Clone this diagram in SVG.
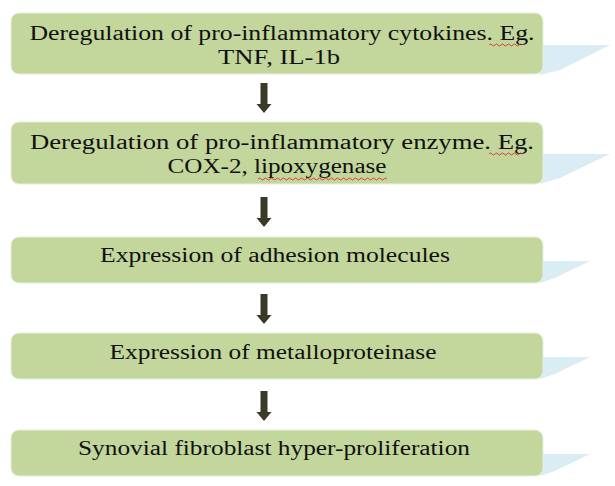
<svg xmlns="http://www.w3.org/2000/svg" width="615" height="486" viewBox="0 0 615 486">
<style>
.box{fill:#c3d69b;stroke:#e8eedd;stroke-width:1}
.sh{fill:#dbedf4}
.t{font-family:"Liberation Serif","Times New Roman",serif;font-size:20px;fill:#111;text-anchor:middle}
.arr{fill:#3b3a28}
.sq{fill:none;stroke:#d22;stroke-width:0.8}
</style>
<defs>
<path id="ar" d="M-3.5,0 H3.5 V21 H7.5 L0,30 L-7.5,21 H-3.5 Z"/>
</defs>
<rect width="615" height="486" fill="#fff"/>
<g id="connectors" class="arr">
<use href="#ar" x="264" y="83"/>
<use href="#ar" x="264" y="197"/>
<use href="#ar" x="264" y="294"/>
<use href="#ar" x="264" y="391"/>
</g>
<g id="n1">
<path class="sh" d="M540,45 H610 L560,70 L540,75 Z"/>
<rect class="box" x="11" y="13" width="532" height="61" rx="8"/>
<text class="t" x="282" y="40" textLength="505" lengthAdjust="spacingAndGlyphs">Deregulation of pro-inflammatory cytokines. Eg.</text>
<text class="t" x="279" y="64" textLength="122" lengthAdjust="spacingAndGlyphs">TNF, IL-1b</text>
<path class="sq" d="M489,45 q1.5,-2 3,0 t3,0 t3,0 t3,0 t3,0 t3,0 t3,0 t3,0 t3,0 t3,0 t3,0"/>
</g>
<g id="n2">
<path class="sh" d="M540,154 H610 L560,178 L540,184 Z"/>
<rect class="box" x="11" y="122" width="532" height="62" rx="8"/>
<text class="t" x="282" y="149" textLength="504" lengthAdjust="spacingAndGlyphs">Deregulation of pro-inflammatory enzyme. Eg.</text>
<text class="t" x="277" y="173" textLength="219" lengthAdjust="spacingAndGlyphs">COX-2, lipoxygenase</text>
<path class="sq" d="M489,154 q1.5,-2 3,0 t3,0 t3,0 t3,0 t3,0 t3,0 t3,0 t3,0 t3,0 t3,0 t3,0"/>
<path class="sq" d="M258,179 q1.5,-2 3,0 t3,0 t3,0 t3,0 t3,0 t3,0 t3,0 t3,0 t3,0 t3,0 t3,0 t3,0 t3,0 t3,0 t3,0 t3,0 t3,0 t3,0 t3,0 t3,0 t3,0 t3,0 t3,0 t3,0 t3,0 t3,0 t3,0 t3,0 t3,0 t3,0 t3,0 t3,0 t3,0 t3,0 t3,0 t3,0 t3,0 t3,0 t3,0 t3,0 t3,0 t3,0 t3,0"/>
</g>
<g id="n3">
<path class="sh" d="M540,261 H590 L555,278 L540,283 Z"/>
<rect class="box" x="11" y="237" width="532" height="46" rx="8"/>
<text class="t" x="275" y="262" textLength="350" lengthAdjust="spacingAndGlyphs">Expression of adhesion molecules</text>
</g>
<g id="n4">
<path class="sh" d="M540,357 H590 L555,374 L540,379 Z"/>
<rect class="box" x="11" y="333" width="532" height="46" rx="8"/>
<text class="t" x="273" y="359" textLength="327" lengthAdjust="spacingAndGlyphs">Expression of metalloproteinase</text>
</g>
<g id="n5">
<path class="sh" d="M540,454 H590 L555,471 L540,476 Z"/>
<rect class="box" x="11" y="430" width="532" height="46" rx="8"/>
<text class="t" x="274" y="455" textLength="392" lengthAdjust="spacingAndGlyphs">Synovial fibroblast hyper-proliferation</text>
</g>
</svg>
